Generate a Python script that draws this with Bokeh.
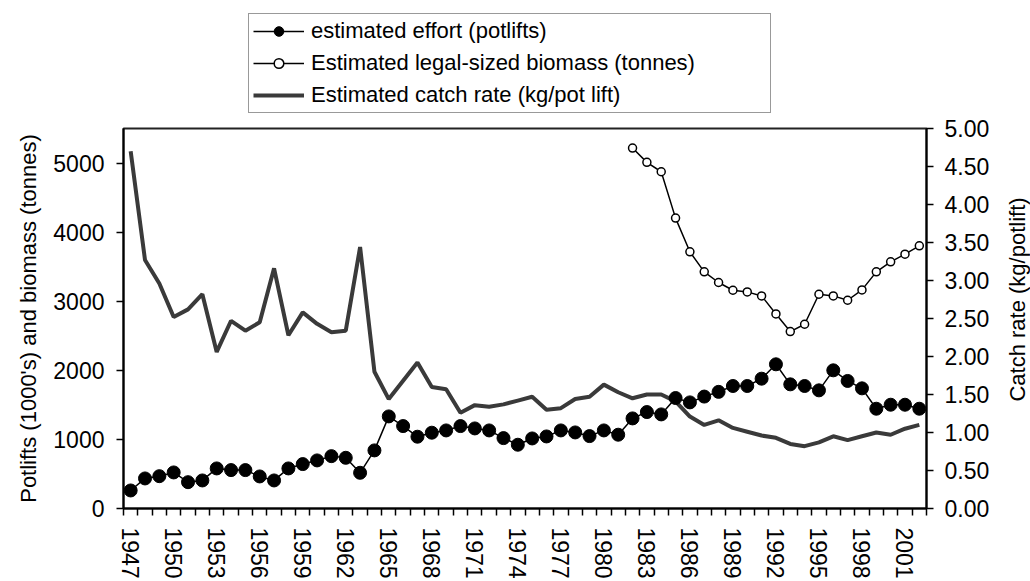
import math
from bokeh.plotting import figure
from bokeh.layouts import column, row
from bokeh.models import (Range1d, LinearAxis, FixedTicker, NumeralTickFormatter,
                          Legend, LegendItem, Label)
from bokeh.embed import file_html
from bokeh.resources import INLINE

# ---------------- data ----------------
years = list(range(1947, 2003))
effort = [261, 435, 468, 522, 381, 406, 580, 556, 556, 464,
          406, 580, 643, 696, 758, 734, 517, 841, 1333, 1193,
          1039, 1097, 1130, 1193, 1159, 1130, 1019, 923, 1014, 1043,
          1130, 1101, 1048, 1130, 1068, 1304, 1396, 1362, 1599, 1536,
          1620, 1688, 1773, 1773, 1879, 2087, 1797, 1773, 1710, 2000,
          1846, 1739, 1444, 1502, 1502, 1444]
catch_rate = [4.70, 3.27, 2.96, 2.52, 2.62, 2.82, 2.06, 2.47, 2.34, 2.45,
              3.16, 2.28, 2.58, 2.43, 2.32, 2.34, 3.44, 1.80, 1.44, 1.68,
              1.92, 1.60, 1.57, 1.26, 1.36, 1.34, 1.37, 1.42, 1.47, 1.30,
              1.32, 1.44, 1.47, 1.63, 1.53, 1.45, 1.50, 1.50, 1.41, 1.21,
              1.10, 1.16, 1.06, 1.01, 0.96, 0.93, 0.85, 0.82, 0.87, 0.95,
              0.90, 0.95, 1.00, 0.97, 1.05, 1.10]
biomass_years = list(range(1982, 2003))
biomass = [5217, 5010, 4874, 4203, 3715, 3425, 3271, 3159, 3135, 3077,
           2816, 2561, 2667, 3101, 3077, 3014, 3164, 3425, 3570, 3681, 3802]

label_years = list(range(1947, 2003, 3))
left_ticks = [0, 1000, 2000, 3000, 4000, 5000]
right_ticks = [0.0, 0.5, 1.0, 1.5, 2.0, 2.5, 3.0, 3.5, 4.0, 4.5, 5.0]
LEFT_MAX = 5500
RIGHT_MAX = 5.0

labels = ["estimated effort (potlifts)",
          "Estimated legal-sized biomass (tonnes)",
          "Estimated catch rate (kg/pot lift)"]
left_title = "Potlifts (1000's) and biomass (tonnes)"
right_title = "Catch rate (kg/potlift)"

FONT = "Liberation Sans"
W, H = 1030, 581
LEG_H = 114                # strip above the chart that holds the legend
MAIN_H = H - LEG_H
TITLE_W = 30               # strip right of the chart that holds the right title
MAIN_W = W - TITLE_W
B_LEFT, B_RIGHT_MAIN, B_TOP, B_BOTTOM = 123, 74, 14, 72


def draw_series(fig, rate_kw=None):
    r_rate = fig.line(years, catch_rate, line_color="#3a3a3a", line_width=4,
                      **(rate_kw or {}))
    r_bl = fig.line(biomass_years, biomass, line_color="black", line_width=1.5)
    r_bp = fig.scatter(biomass_years, biomass, marker="circle", size=8,
                       fill_color="white", line_color="black", line_width=1.5)
    r_el = fig.line(years, effort, line_color="black", line_width=1.5)
    r_ep = fig.scatter(years, effort, marker="circle", size=13,
                       fill_color="black", line_color="black")
    return r_rate, r_bl, r_bp, r_el, r_ep


# ---------------- main chart ----------------
p = figure(width=MAIN_W, height=MAIN_H,
           x_range=Range1d(years[0] - 0.5, years[-1] + 0.5),
           y_range=Range1d(0, LEFT_MAX),
           output_backend="svg", toolbar_location=None,
           min_border_left=B_LEFT, min_border_right=B_RIGHT_MAIN,
           min_border_top=B_TOP, min_border_bottom=B_BOTTOM)
p.extra_y_ranges = {"rate": Range1d(0, RIGHT_MAX)}
p.grid.visible = False
p.outline_line_color = "#222222"
p.outline_line_width = 2
p.background_fill_color = "white"
p.border_fill_color = "white"

# x axis
xa = p.xaxis[0]
xa.ticker = FixedTicker(ticks=label_years,
                        minor_ticks=[y - 0.5 for y in years] + [years[-1] + 0.5])
xa.major_tick_out = 0
xa.major_tick_in = 0
xa.minor_tick_out = 7
xa.minor_tick_in = 0
xa.minor_tick_line_color = "black"
xa.minor_tick_line_width = 1.5
xa.major_label_orientation = -math.pi / 2
xa.major_label_standoff = 12
xa.major_label_text_font = FONT
xa.major_label_text_font_size = "23px"
xa.major_label_text_color = "black"
xa.axis_line_color = "black"
xa.axis_line_width = 2

# left axis
ya = p.yaxis[0]
ya.ticker = FixedTicker(ticks=left_ticks, minor_ticks=[])
ya.major_tick_out = 7
ya.major_tick_in = 0
ya.major_tick_line_width = 1.5
ya.major_tick_line_color = "black"
ya.major_label_standoff = 12
ya.major_label_text_font = FONT
ya.major_label_text_font_size = "23px"
ya.major_label_text_color = "black"
ya.axis_line_color = "black"
ya.axis_line_width = 2
ya.axis_label = left_title
ya.axis_label_text_font = FONT
ya.axis_label_text_font_size = "22px"
ya.axis_label_text_font_style = "normal"
ya.axis_label_text_color = "black"
ya.axis_label_standoff = 9

# right axis (its title is set in the narrow strip to its right)
ra = LinearAxis(y_range_name="rate",
                ticker=FixedTicker(ticks=right_ticks, minor_ticks=[]),
                formatter=NumeralTickFormatter(format="0.00"))
ra.major_tick_out = 7
ra.major_tick_in = 0
ra.major_tick_line_width = 1.5
ra.major_tick_line_color = "black"
ra.major_label_standoff = 11
ra.major_label_text_font = FONT
ra.major_label_text_font_size = "23px"
ra.major_label_text_color = "black"
ra.axis_line_color = "black"
ra.axis_line_width = 2
p.add_layout(ra, "right")

draw_series(p, rate_kw={"y_range_name": "rate"})

# ---------------- right title strip ----------------
# (its frame is aligned with the main chart's frame by the row layout)
tf = figure(width=TITLE_W, height=MAIN_H, x_range=Range1d(0, 1), y_range=Range1d(0, 1),
            x_axis_type=None, y_axis_type=None,
            output_backend="svg", toolbar_location=None, min_border=0)
tf.grid.visible = False
tf.outline_line_color = None
tf.background_fill_color = "white"
tf.border_fill_color = "white"
tf.add_layout(Label(x=17, y=209, x_units="screen", y_units="screen",
                    text=right_title, angle=math.pi / 2,
                    text_align="center", text_baseline="middle",
                    text_font=FONT, text_font_size="22px", text_color="black"))

# ---------------- legend strip ----------------
lg = figure(width=W, height=LEG_H, x_range=Range1d(0, 1), y_range=Range1d(0, 1),
            x_axis_type=None, y_axis_type=None,
            output_backend="svg", toolbar_location=None,
            min_border_left=B_LEFT, min_border_right=B_RIGHT_MAIN + TITLE_W,
            min_border_top=0, min_border_bottom=0)
lg.grid.visible = False
lg.outline_line_color = None
lg.background_fill_color = "white"
lg.border_fill_color = "white"
# same series, outside the strip's visible range: used only as legend samples
l_rate, l_bl, l_bp, l_el, l_ep = draw_series(lg)

legend = Legend(items=[
    LegendItem(label=labels[0], renderers=[l_el, l_ep]),
    LegendItem(label=labels[1], renderers=[l_bl, l_bp]),
    LegendItem(label=labels[2], renderers=[l_rate]),
], location=(125, 1), orientation="vertical")
legend.label_text_font = FONT
legend.label_text_font_size = "22px"
legend.label_text_color = "black"
legend.label_height = 24
legend.label_width = 455
legend.glyph_height = 24
legend.glyph_width = 51
legend.label_standoff = 7
legend.padding = 4
legend.spacing = 6
legend.margin = 0
legend.border_line_color = "#333333"
legend.border_line_width = 1.5
legend.background_fill_color = "white"
legend.background_fill_alpha = 1
lg.add_layout(legend)

layout = column(lg, row(p, tf, spacing=0), spacing=0)
open("out.html", "w").write(file_html(layout, INLINE))
